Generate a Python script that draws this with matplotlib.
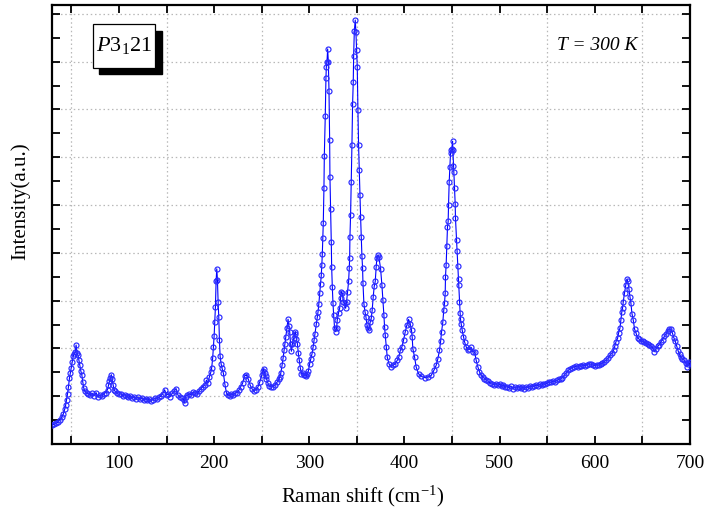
import matplotlib
matplotlib.use("Agg")
import matplotlib.pyplot as plt
from matplotlib.patches import Rectangle
from matplotlib.ticker import FixedLocator, NullFormatter

# ---------------- data ----------------
shift_a = [30, 32, 34, 36, 38, 40, 41.5, 43, 44, 45, 46, 47, 48, 49, 50, 51, 52, 53, 54, 55,
           56, 57, 58, 59, 60, 61, 62, 63, 64, 66]
inten_a = [0.80, 0.82, 0.86, 0.92, 1.00, 1.12, 1.25, 1.45, 1.62, 1.85, 2.10, 2.40, 2.75, 2.98, 3.20,
           3.45, 3.68, 3.78, 3.85, 4.14, 3.82, 3.72, 3.50, 3.30, 3.05, 2.90, 2.60, 2.35, 2.22, 2.12]

shift_b = [68, 70, 72, 74, 76, 78, 80, 82, 84, 86, 88, 89, 90, 91, 92, 93, 94, 95, 96, 98,
           100, 102, 104, 106, 108, 110, 112, 114, 116, 118, 120, 122, 124, 126, 128, 130, 132, 134, 136, 138,
           140, 142, 144, 146, 148, 150, 152, 154, 156, 158, 160, 162, 164, 166, 168, 169, 170, 172, 174, 176,
           178, 180, 182, 184, 186, 188, 190, 192]
inten_b = [2.10, 2.05, 2.12, 2.02, 2.15, 1.96, 2.05, 2.00, 2.10, 2.15, 2.28, 2.45, 2.62, 2.75, 2.90, 2.70, 2.45, 2.28, 2.20, 2.12,
           2.08, 2.10, 2.02, 2.06, 2.00, 1.95, 2.02, 1.92, 1.98, 1.90, 1.95, 1.88, 1.92, 1.86, 1.90, 1.84, 1.88, 1.82, 1.86, 1.92,
           1.88, 1.95, 2.00, 2.10, 2.27, 2.05, 2.10, 1.98, 2.12, 2.20, 2.32, 2.05, 1.95, 1.92, 1.85, 1.72, 1.98, 2.05, 2.10, 2.05,
           2.18, 2.12, 2.08, 2.22, 2.30, 2.40, 2.45, 2.67]

shift_c = [193.5, 195, 196.5, 197.5, 198.5, 199.3, 200, 200.7, 201.4, 202.1, 202.8, 203.5, 204.2, 204.9, 205.6, 206.3, 207.4, 208.4, 209.8, 211.2,
           213, 214.5, 216.5, 218, 220, 222, 224, 226, 228, 230, 232, 234, 236, 238, 240, 242, 244, 246, 248, 250]
inten_c = [2.55, 2.80, 3.00, 3.20, 3.60, 4.07, 4.50, 5.12, 5.75, 6.81, 7.33, 6.88, 5.96, 5.31, 4.35, 3.68, 3.34, 3.16, 2.95, 2.53,
           2.13, 2.05, 2.02, 2.10, 2.06, 2.12, 2.15, 2.25, 2.40, 2.55, 2.85, 2.88, 2.70, 2.45, 2.30, 2.22, 2.28, 2.38, 2.60, 2.87]

shift_d = [251, 252, 253, 254, 255, 256.5, 258, 260, 262, 264, 266, 268, 269, 270, 271.4, 272.5, 273.5, 274.3, 275.2, 276.5,
           277.7, 278.5, 279.4, 280.3, 281.2, 282.3, 283.6, 284.5, 285.4, 286.4, 287.5, 288.5, 289.5, 290.5, 291.7, 293, 294.5, 296, 297, 298,
           299, 300.4, 301.5, 302.9, 304, 305, 306, 307.4, 308.3, 309.2, 310, 311, 312, 312.6, 313.2, 313.7]
inten_d = [3.05, 3.15, 2.98, 2.85, 2.73, 2.55, 2.42, 2.38, 2.40, 2.48, 2.58, 2.70, 2.80, 2.95, 3.29, 3.60, 3.92, 4.20, 4.48, 4.85,
           5.22, 4.95, 4.70, 4.20, 3.88, 4.20, 4.42, 4.60, 4.70, 4.40, 4.20, 3.80, 3.50, 3.20, 2.94, 2.95, 2.88, 2.90, 2.85, 2.94,
           3.05, 3.36, 3.55, 3.78, 4.05, 4.34, 4.60, 5.04, 5.30, 5.53, 5.85, 6.30, 6.70, 7.06, 7.50, 7.97]

shift_e = [314.2, 314.7, 315.4, 315.8, 316.8, 317.5, 317.9, 318.6, 319.3, 320, 320.7, 321.4, 321.7, 322.4, 323.1, 323.5, 324.2, 324.9, 325.6, 326.6,
           327.7, 328.7, 329.4, 330.8, 331.9, 332.9, 333.6, 334.7, 335.7, 337.1, 338.2, 339.2, 340.3, 341.3, 342, 342.4, 342.7, 343.4, 344.1, 344.8,
           345.5, 346.2, 346.6, 347.3, 348.3, 349, 349.7, 350.4, 351.1, 351.8, 352.5, 353.2, 353.9, 354.6, 355.3, 356, 356.4, 357.4, 358.5, 359.5,
           360.6, 361.6, 362.6, 364.1, 365.1, 366.1, 367.2, 368.2, 369.3, 370.3, 371, 372.1, 373.1]
inten_e = [8.60, 9.24, 10.70, 12.07, 13.74, 15.30, 15.79, 16.00, 16.53, 16.00, 14.79, 12.70, 11.19, 9.84, 8.47, 7.42, 6.56, 5.89, 5.40, 4.84,
           4.70, 4.84, 5.19, 5.50, 5.68, 6.10, 6.38, 6.31, 5.96, 5.89, 5.68, 5.96, 6.38, 6.80, 7.35, 7.77, 8.65, 9.58, 10.98, 12.49,
           14.21, 15.16, 16.24, 17.26, 17.74, 17.23, 16.49, 15.79, 13.98, 12.49, 11.45, 10.42, 9.51, 8.68, 7.87, 7.35, 6.73, 5.86, 5.54, 5.33,
           4.98, 4.84, 4.77, 5.12, 5.26, 5.61, 6.17, 6.59, 6.80, 7.42, 7.77, 7.91, 7.84]

shift_f = [374.9, 376.3, 377.4, 378.4, 379.1, 379.8, 380.9, 381.9, 383.7, 386.1, 387.9, 390.3, 392.4, 394.1, 395.6, 397.3, 399, 400.8, 402.5, 404.3,
           406, 407.4, 408.1, 408.8, 410.6, 412.3, 414.8, 417.6, 421.1, 424.6, 428.1, 430.9, 433.3, 435.1, 436.8]
inten_f = [7.34, 6.65, 6.02, 5.39, 4.90, 4.55, 4.06, 3.64, 3.36, 3.22, 3.29, 3.36, 3.50, 3.64, 3.92, 4.06, 4.34, 4.69, 4.97, 5.21,
           5.04, 4.76, 4.48, 3.99, 3.64, 3.22, 2.94, 2.83, 2.78, 2.80, 2.87, 3.08, 3.29, 3.57, 3.92]

shift_g = [438, 439, 440.3, 441.3, 442.1, 442.8, 443.1, 443.8, 444.5, 445.2, 445.9, 446.3, 447, 447.7, 448.4, 449.1, 449.8, 450.5, 450.8, 451.5,
           451.9, 452.6, 453.3, 453.6, 454.7, 455.4, 456.1, 456.8, 457.1, 457.8, 458.5, 458.9, 459.6, 460.6, 462, 463.1, 464.8, 466.6, 468.3, 470.1,
           471.8, 473.6, 475.3, 477.1, 478.8, 480.6]
inten_g = [4.30, 4.70, 5.10, 5.60, 5.90, 6.31, 7.00, 7.50, 8.29, 9.08, 9.31, 9.99, 10.97, 11.59, 12.18, 12.29, 12.35, 12.67, 12.32, 11.65,
           11.37, 10.71, 10.04, 9.45, 8.55, 8.06, 7.43, 6.90, 6.64, 5.93, 5.47, 5.22, 5.02, 4.77, 4.49, 4.28, 4.07, 3.93, 3.96, 4.04,
           3.86, 3.86, 3.51, 3.23, 3.02, 2.88]

shift_h = [482.3, 484, 486, 488, 490, 492, 494, 496, 498, 500, 502, 504, 506, 508, 510, 512, 514, 516, 518, 520,
           522, 524, 526, 528, 530, 532, 534, 536, 538, 540, 542, 544, 546, 548, 550, 552, 554, 556, 558, 560,
           562, 564, 566, 568, 570, 572, 574, 576, 578, 580, 582, 584, 586, 588, 590, 592, 594, 596, 598, 600,
           602, 604, 606, 608, 610, 612, 614, 616, 618, 620]
inten_h = [2.80, 2.74, 2.67, 2.62, 2.55, 2.50, 2.48, 2.52, 2.45, 2.50, 2.42, 2.46, 2.38, 2.40, 2.35, 2.42, 2.32, 2.38, 2.34, 2.40,
           2.33, 2.37, 2.32, 2.40, 2.36, 2.44, 2.38, 2.42, 2.46, 2.44, 2.50, 2.46, 2.52, 2.50, 2.55, 2.60, 2.58, 2.62, 2.60, 2.66,
           2.70, 2.72, 2.78, 2.88, 2.98, 3.08, 3.12, 3.20, 3.22, 3.25, 3.22, 3.28, 3.26, 3.30, 3.28, 3.32, 3.36, 3.34, 3.30, 3.28,
           3.32, 3.30, 3.36, 3.38, 3.45, 3.50, 3.60, 3.72, 3.80, 3.95]

shift_i = [621, 622.2, 623.9, 625, 626.4, 627.4, 628.4, 629.2, 629.9, 631.2, 632.6, 633.8, 634.6, 635.8, 636.9, 637.9, 639, 640.4, 641.8, 643.2,
           644.9, 646.7, 648.5, 650.2, 652, 653.7, 655.5, 657.2, 659, 660.7, 662.4, 664.2, 666, 667.7, 669.4, 671.2, 673, 674.7, 676.4, 678.2,
           679.9, 681.6, 683, 684.5, 686, 687.5, 689, 690.4, 692, 694, 695.5, 696.7, 698, 699.2, 700]
inten_i = [4.10, 4.28, 4.42, 4.65, 4.85, 5.19, 5.54, 5.70, 5.96, 6.32, 6.67, 6.90, 6.80, 6.50, 6.16, 5.90, 5.46, 5.18, 4.80, 4.65,
           4.45, 4.38, 4.32, 4.30, 4.25, 4.22, 4.18, 4.15, 4.10, 4.02, 3.86, 3.98, 4.08, 4.15, 4.28, 4.36, 4.50, 4.60, 4.74, 4.80,
           4.82, 4.63, 4.45, 4.30, 4.10, 3.90, 3.75, 3.64, 3.55, 3.50, 3.40, 3.23, 3.35, 3.42, 3.40]

x_label = "Raman shift (cm$^{-1}$)"
y_label = "Intensity(a.u.)"
x_ticklabels = ["100", "200", "300", "400", "500", "600", "700"]
x_major = [100, 200, 300, 400, 500, 600, 700]
phase_label = r"$\mathit{P}\mathrm{3}_{\mathrm{1}}\mathrm{21}$"
temp_label = "T = 300 K"

shift = shift_a + shift_b + shift_c + shift_d + shift_e + shift_f + shift_g + shift_h + shift_i
inten = inten_a + inten_b + inten_c + inten_d + inten_e + inten_f + inten_g + inten_h + inten_i

# ---------------- style ----------------
plt.rcParams['font.family'] = ['Liberation Serif', 'DejaVu Serif']
plt.rcParams['mathtext.fontset'] = 'custom'
plt.rcParams['mathtext.rm'] = 'Liberation Serif'
plt.rcParams['mathtext.it'] = 'Liberation Serif:italic'

W, H = 706, 514
fig = plt.figure(figsize=(W / 100, H / 100), dpi=100)
ax = fig.add_axes([52.3 / W, 1 - 444 / H, (690 - 52.3) / W, (444 - 5) / H])

ax.plot(shift, inten, color='#0000ff', lw=0.8, marker='o', ms=3.6, mfc='none',
        mec='#2a2aff', mew=0.85, zorder=3)

ax.set_xlim(30, 700)
ax.set_ylim(0, (444 - 5) / 23.9)

ax.xaxis.set_major_locator(FixedLocator(x_major))
ax.set_xticklabels(x_ticklabels)
ax.xaxis.set_minor_locator(FixedLocator([50, 150, 250, 350, 450, 550, 650]))
ax.yaxis.set_major_locator(FixedLocator(list(range(1, 18, 2))))
ax.yaxis.set_minor_locator(FixedLocator(list(range(2, 19, 2))))
ax.yaxis.set_major_formatter(NullFormatter())
ax.yaxis.set_minor_formatter(NullFormatter())

for which in ('major', 'minor'):
    ax.tick_params(axis='both', which=which, direction='in', length=6, width=1.3,
                   top=True, right=True, bottom=True, left=True, color='black')
ax.tick_params(axis='x', which='major', labelsize=14, pad=8)

ax.grid(True, which='minor', linestyle=(0, (1.2, 2.2)), color='#b8b8b8', lw=0.9)
ax.grid(False, which='major')
ax.set_axisbelow(True)
for sp in ax.spines.values():
    sp.set_linewidth(1.6)

fig.text(363 / W, 1 - 496 / H, x_label, ha='center', va='center', fontsize=15)
fig.text(20 / W, 1 - 201 / H, y_label, ha='center', va='center', rotation=90, fontsize=15)

# phase label box with shadow (figure pixel coordinates)
bx0, by0, bx1, by1 = 92.7, 24.3, 155.3, 67.7
off = 6.5
fig.patches.append(Rectangle(((bx0 + off) / W, 1 - (by1 + off) / H), (bx1 - bx0) / W, (by1 - by0) / H,
                             transform=fig.transFigure, facecolor='black', edgecolor='black', zorder=5))
fig.patches.append(Rectangle((bx0 / W, 1 - by1 / H), (bx1 - bx0) / W, (by1 - by0) / H,
                             transform=fig.transFigure, facecolor='white', edgecolor='black', lw=0.9, zorder=6))
fig.text((bx0 + bx1) / 2 / W, 1 - 45 / H, phase_label, ha='center', va='center', fontsize=16, zorder=7)

fig.text(597 / W, 1 - 45 / H, temp_label, ha='center', va='center', fontsize=14, style='italic')

fig.savefig('out.png', dpi=100)
